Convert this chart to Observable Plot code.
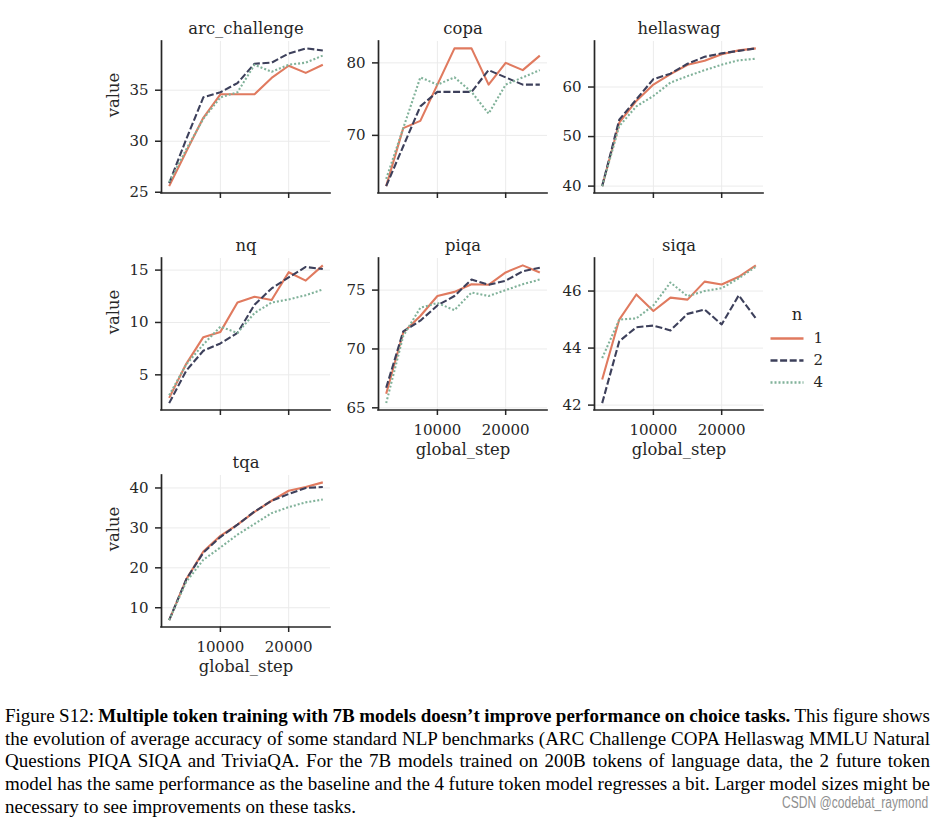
<!DOCTYPE html>
<html><head><meta charset="utf-8">
<script src="https://cdn.jsdelivr.net/npm/d3@7"></script>
<script src="https://cdn.jsdelivr.net/npm/@observablehq/plot@0.6"></script>
<style>
html,body{margin:0;padding:0;background:#fff;}
#root{position:relative;width:943px;height:820px;overflow:hidden;background:#fff;}
.panel{position:absolute;}
.cap{position:absolute;left:5px;font-family:"Liberation Serif","Times New Roman",serif;font-size:19px;line-height:19px;color:#000;white-space:nowrap;}
.wm{position:absolute;font-family:"Liberation Sans",Arial,sans-serif;font-size:16px;line-height:16px;color:#8f8f8f;white-space:nowrap;transform-origin:right center;}
</style></head><body><div id="root"></div>
<script>
// ---------- data ----------
const steps = [2500, 5000, 7500, 10000, 12500, 15000, 17500, 20000, 22500, 25000];
const seriesNames = ["1", "2", "4"];
const xTicks = [10000, 20000];

const arc_n1 = [25.6, 29.0, 32.3, 34.6, 34.6, 34.6, 36.2, 37.4, 36.7, 37.5];
const arc_n2 = [25.9, 30.2, 34.3, 34.8, 35.7, 37.6, 37.7, 38.6, 39.1, 38.9];
const arc_n4 = [26.0, 29.2, 32.2, 34.3, 34.8, 37.5, 36.8, 37.5, 37.7, 38.4];
const arc_ticks = [25, 30, 35];

const copa_n1 = [63, 71, 72, 77, 82, 82, 77, 80, 79, 81];
const copa_n2 = [63, 68.5, 74, 76, 76, 76, 79, 78, 77, 77];
const copa_n4 = [64, 71, 78, 77, 78, 76, 73, 77, 78, 79];
const copa_ticks = [70, 80];

const hella_n1 = [40, 52.8, 57.2, 60.5, 62.6, 64.5, 65.3, 66.6, 67.4, 67.8];
const hella_n2 = [40, 53.4, 57.5, 61.6, 62.7, 64.7, 66.1, 66.8, 67.3, 67.8];
const hella_n4 = [40, 52.1, 56.1, 58.2, 60.9, 62.2, 63.4, 64.5, 65.4, 65.7];
const hella_ticks = [40, 50, 60];

const nq_n1 = [2.8, 6.05, 8.6, 9.1, 11.9, 12.45, 12.15, 14.8, 14.0, 15.45];
const nq_n2 = [2.3, 5.4, 7.3, 8.0, 9.0, 11.7, 13.25, 14.3, 15.3, 15.1];
const nq_n4 = [3.05, 6.0, 7.9, 9.6, 9.0, 10.9, 11.9, 12.2, 12.6, 13.15];
const nq_ticks = [5, 10, 15];

const piqa_n1 = [66.2, 71.4, 72.8, 74.5, 74.85, 75.5, 75.45, 76.5, 77.1, 76.5];
const piqa_n2 = [66.7, 71.5, 72.4, 73.7, 74.5, 75.9, 75.45, 75.8, 76.6, 76.9];
const piqa_n4 = [65.4, 71.1, 73.5, 73.9, 73.3, 74.8, 74.5, 75.0, 75.5, 75.9];
const piqa_ticks = [65, 70, 75];

const siqa_n1 = [42.9, 45.0, 45.88, 45.3, 45.77, 45.7, 46.33, 46.23, 46.5, 46.9];
const siqa_n2 = [42.07, 44.24, 44.73, 44.79, 44.62, 45.2, 45.35, 44.83, 45.85, 45.04];
const siqa_n4 = [43.65, 45.0, 45.04, 45.5, 46.3, 45.82, 46.0, 46.1, 46.45, 46.85];
const siqa_ticks = [42, 44, 46];

const tqa_n1 = [6.9, 17.1, 24.1, 28.0, 30.8, 34.0, 36.8, 39.3, 40.25, 41.4];
const tqa_n2 = [6.9, 17.1, 23.8, 27.7, 30.8, 34.1, 36.8, 38.5, 40.0, 40.25];
const tqa_n4 = [6.9, 16.5, 22.0, 25.1, 28.3, 31.0, 33.7, 35.2, 36.4, 37.1];
const tqa_ticks = [10, 20, 30, 40];

const captionLines = [
  'Figure S12: <b>Multiple token training with 7B models doesn’t improve performance on choice tasks.</b> This figure shows',
  'the evolution of average accuracy of some standard NLP benchmarks (ARC Challenge COPA Hellaswag MMLU Natural',
  'Questions PIQA SIQA and TriviaQA. For the 7B models trained on 200B tokens of language data, the 2 future token',
  'model has the same performance as the baseline and the 4 future token model regresses a bit. Larger model sizes might be',
  'necessary to see improvements on these tasks.'
];
const watermark = "CSDN @codebat_raymond";

// ---------- styles ----------
const colors = ["#E07A5F", "#3D405B", "#81B29A"];
const dashes = [null, "7,2.6", "2,2"];
const INK = "#262626";
const GRID = "#ebebeb";

const root = document.getElementById("root");
const ML = 70, MR = 12, MT = 35, MB = 56, PW = 169, PH = 151.5;
const colLeft = [161, 377.5, 594.3];
const rowTop = [41, 258, 475];

function panel(title, s1, s2, s4, yTicks, col, row, showX, showY) {
  const series = [s1, s2, s4];
  const rows = [];
  series.forEach((s, k) => s.forEach((v, i) => rows.push({step: steps[i], value: v, n: seriesNames[k]})));
  const ye = d3.extent([...s1, ...s2, ...s4]);
  const yp = (ye[1] - ye[0]) * 0.05;
  const xe = d3.extent(steps);
  const xp = (xe[1] - xe[0]) * 0.05;
  const x0 = xe[0] - xp, y0 = ye[0] - yp;
  const marks = [
    Plot.gridX(xTicks, {stroke: GRID, strokeOpacity: 1, strokeWidth: 1}),
    Plot.gridY(yTicks, {stroke: GRID, strokeOpacity: 1, strokeWidth: 1}),
  ];
  seriesNames.forEach((nm, k) => {
    marks.push(Plot.line(rows.filter(d => d.n === nm), {
      x: "step", y: "value", stroke: colors[k], strokeWidth: 2.1,
      strokeDasharray: dashes[k], strokeLinecap: "butt", strokeLinejoin: "round"
    }));
  });
  marks.push(
    Plot.axisX(xTicks, {tickSize: 5.5, tickPadding: 9, strokeWidth: 1.5, fontSize: 15,
      tickFormat: showX ? d3.format("d") : () => "", label: null}),
    Plot.axisY(yTicks, {tickSize: 6, tickPadding: 7, strokeWidth: 1.5, fontSize: 15,
      tickFormat: d3.format("d"), label: null}),
    Plot.ruleX([x0], {stroke: INK, strokeWidth: 1.7, strokeLinecap: "square"}),
    Plot.ruleY([y0], {stroke: INK, strokeWidth: 1.7, strokeLinecap: "square"}),
    Plot.text([title], {frameAnchor: "top", dy: -13, fontSize: 16.4, lineAnchor: "middle", fill: INK})
  );
  if (showX) marks.push(Plot.text(["global_step"], {frameAnchor: "bottom", dy: 40, fontSize: 16.4, lineAnchor: "middle", fill: INK}));
  if (showY) marks.push(Plot.text(["value"], {frameAnchor: "left", dx: -48, rotate: -90, fontSize: 16.4, lineAnchor: "middle", fill: INK}));
  const p = Plot.plot({
    width: ML + PW + MR, height: MT + PH + MB,
    marginLeft: ML, marginRight: MR, marginTop: MT, marginBottom: MB,
    style: {fontFamily: "DejaVu Serif", fontSize: "15px", color: INK, background: "transparent", overflow: "visible"},
    x: {domain: [x0, xe[1] + xp]},
    y: {domain: [y0, ye[1] + yp]},
    marks
  });
  p.classList.add("panel");
  p.style.left = (colLeft[col] - ML) + "px";
  p.style.top = (rowTop[row] - MT) + "px";
  p.style.maxWidth = "none";
  root.appendChild(p);
}

panel("arc_challenge", arc_n1, arc_n2, arc_n4, arc_ticks, 0, 0, false, true);
panel("copa", copa_n1, copa_n2, copa_n4, copa_ticks, 1, 0, false, false);
panel("hellaswag", hella_n1, hella_n2, hella_n4, hella_ticks, 2, 0, false, false);
panel("nq", nq_n1, nq_n2, nq_n4, nq_ticks, 0, 1, false, true);
panel("piqa", piqa_n1, piqa_n2, piqa_n4, piqa_ticks, 1, 1, true, false);
panel("siqa", siqa_n1, siqa_n2, siqa_n4, siqa_ticks, 2, 1, true, false);
panel("tqa", tqa_n1, tqa_n2, tqa_n4, tqa_ticks, 0, 2, true, true);

// ---------- legend ----------
const legRows = [];
seriesNames.forEach(nm => { legRows.push({n: nm, t: 0}); legRows.push({n: nm, t: 1}); });
const legMarks = seriesNames.map((nm, k) => Plot.line(legRows.filter(d => d.n === nm), {
  x: "t", y: "n", stroke: colors[k], strokeWidth: 2.3, strokeDasharray: dashes[k], strokeLinecap: "butt"
}));
legMarks.push(
  Plot.text(seriesNames, {x: () => 1, y: d => d, dx: 10, textAnchor: "start", fontSize: 15, fill: INK}),
  Plot.text(["n"], {frameAnchor: "top", dy: 14, dx: 10, fontSize: 16.4, lineAnchor: "middle", fill: INK})
);
const leg = Plot.plot({
  width: 90, height: 100, marginLeft: 15, marginRight: 42, marginTop: 0, marginBottom: 0,
  style: {fontFamily: "DejaVu Serif", fontSize: "15px", color: INK, background: "transparent", overflow: "visible"},
  x: {domain: [0, 1], axis: null},
  y: {type: "point", domain: seriesNames, range: [36.7, 82.3], padding: 0, axis: null},
  marks: legMarks
});
leg.classList.add("panel");
leg.style.left = "755px";
leg.style.top = "300px";
root.appendChild(leg);

// ---------- caption ----------
const CAPW = 925;
captionLines.forEach((html, i) => {
  const div = document.createElement("div");
  div.className = "cap";
  div.style.top = (722 + i * 22.6 - 15.9) + "px";
  const span = document.createElement("span");
  span.innerHTML = html;
  div.appendChild(span);
  root.appendChild(div);
  if (i < captionLines.length - 1) {
    const w = span.getBoundingClientRect().width;
    const nsp = (span.textContent.match(/ /g) || []).length;
    span.style.wordSpacing = ((CAPW - w) / nsp) + "px";
  }
});
const wm = document.createElement("div");
wm.className = "wm";
wm.textContent = watermark;
root.appendChild(wm);
const ww = wm.getBoundingClientRect().width;
wm.style.left = (928 - ww) + "px";
wm.style.top = (803 - 8) + "px";
wm.style.transform = "scaleX(" + (146 / ww) + ")";
</script></body></html>
